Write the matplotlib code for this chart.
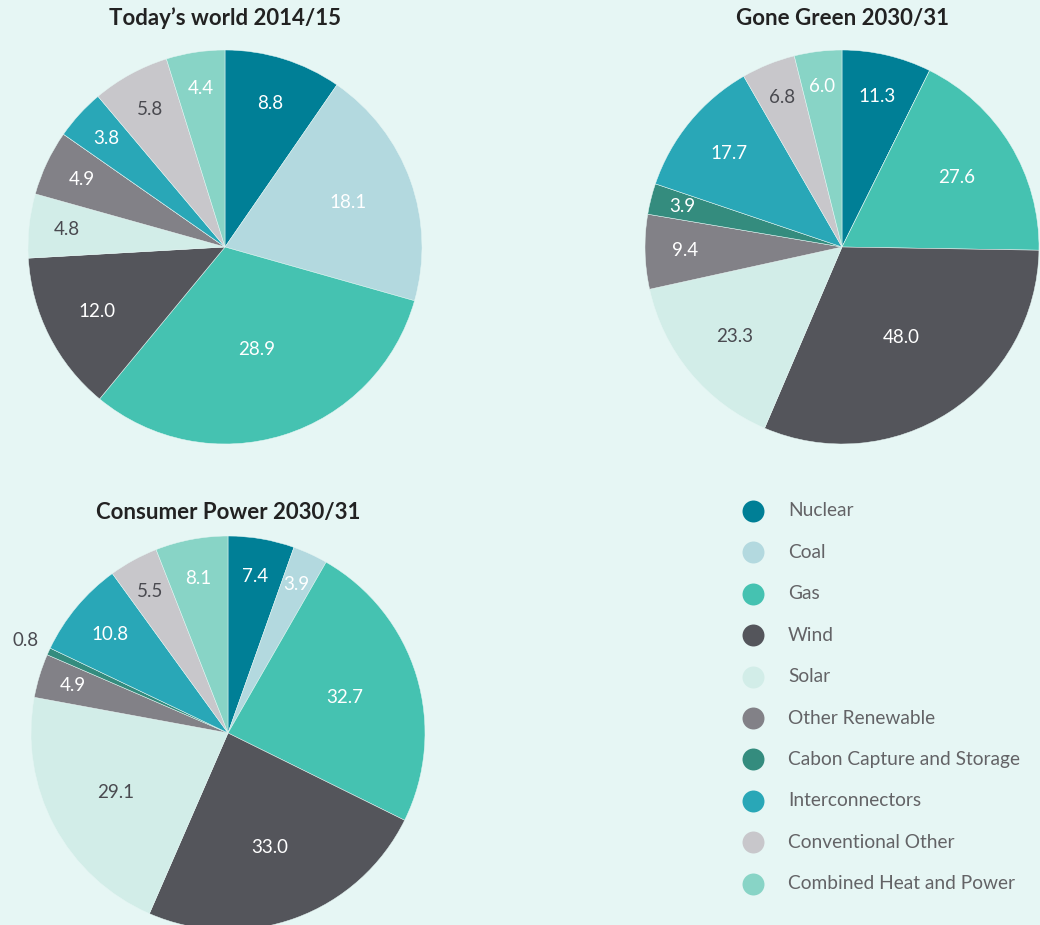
import matplotlib
matplotlib.use("Agg")
import matplotlib.pyplot as plt
import numpy as np

# Categories and colours (same order in every pie, clockwise from 12 o'clock)
categories = ["Nuclear", "Coal", "Gas", "Wind", "Solar", "Other Renewable",
              "Cabon Capture and Storage", "Interconnectors",
              "Conventional Other", "Combined Heat and Power"]
colors = ["#007F96", "#B3D9DF", "#45C2B1", "#54555B", "#D2EDE8",
          "#828187", "#348C7E", "#29A7B7", "#C8C7CB", "#88D4C6"]
# label text colour per category
label_colors = ["white", "white", "white", "white", "#4A4A50",
                "white", "white", "white", "#4A4A50", "white"]

todays_world = [8.8, 18.1, 28.9, 12.0, 4.8, 4.9, 0.0, 3.8, 5.8, 4.4]
gone_green = [11.3, 0.0, 27.6, 48.0, 23.3, 9.4, 3.9, 17.7, 6.8, 6.0]
consumer_power = [7.4, 3.9, 32.7, 33.0, 29.1, 4.9, 0.8, 10.8, 5.5, 8.1]

BG = "#E6F6F4"
FONT = "Lato"
W, H = 1040, 925

fig = plt.figure(figsize=(W / 100, H / 100), dpi=100, facecolor=BG)


def add_pie(values, title, cx, cy, r, title_y):
    # axes placed in pixel units so the pie lands where it does in the original
    ax = fig.add_axes([(cx - r) / W, (H - cy - r) / H, 2 * r / W, 2 * r / H])
    ax.set_facecolor("none")
    wedges, _ = ax.pie(values, colors=colors, startangle=90, counterclock=False,
                       radius=1, wedgeprops=dict(edgecolor=BG, linewidth=0.35))
    ax.set_xlim(-1, 1)
    ax.set_ylim(-1, 1)
    ax.axis("off")
    total = sum(values)
    for i, (w, v) in enumerate(zip(wedges, values)):
        if v == 0:
            continue
        share = v / total
        ang = np.deg2rad((w.theta1 + w.theta2) / 2)
        if share < 0.01:
            d, col = 1.13, "#4A4A50"
        else:
            d, col = 0.86 - share, label_colors[i]
        ax.text(d * np.cos(ang), d * np.sin(ang), f"{v:.1f}", ha="center", va="center",
                color=col, fontsize=13.5, family=FONT, clip_on=False)
    fig.text(cx / W, 1 - title_y / H, title, ha="center", va="center",
             fontsize=16, fontweight="bold", family=FONT, color="#222222")


add_pie(todays_world, "Today\u2019s world 2014/15", 225, 247, 197, 18)
add_pie(gone_green, "Gone Green 2030/31", 842, 247, 197, 18)
add_pie(consumer_power, "Consumer Power 2030/31", 228, 733, 197, 513)

# legend drawn in pixel coordinates
lax = fig.add_axes([0, 0, 1, 1])
lax.set_xlim(0, W)
lax.set_ylim(H, 0)
lax.axis("off")
for i, (name, c) in enumerate(zip(categories, colors)):
    y = 511 + i * 41.4
    lax.scatter([753], [y], s=250, color=c, linewidths=0)
    lax.text(788, y, name, ha="left", va="center", fontsize=13.8, family=FONT,
             fontweight="normal", color="#636366")

fig.savefig("out.png", dpi=100, facecolor=BG)
